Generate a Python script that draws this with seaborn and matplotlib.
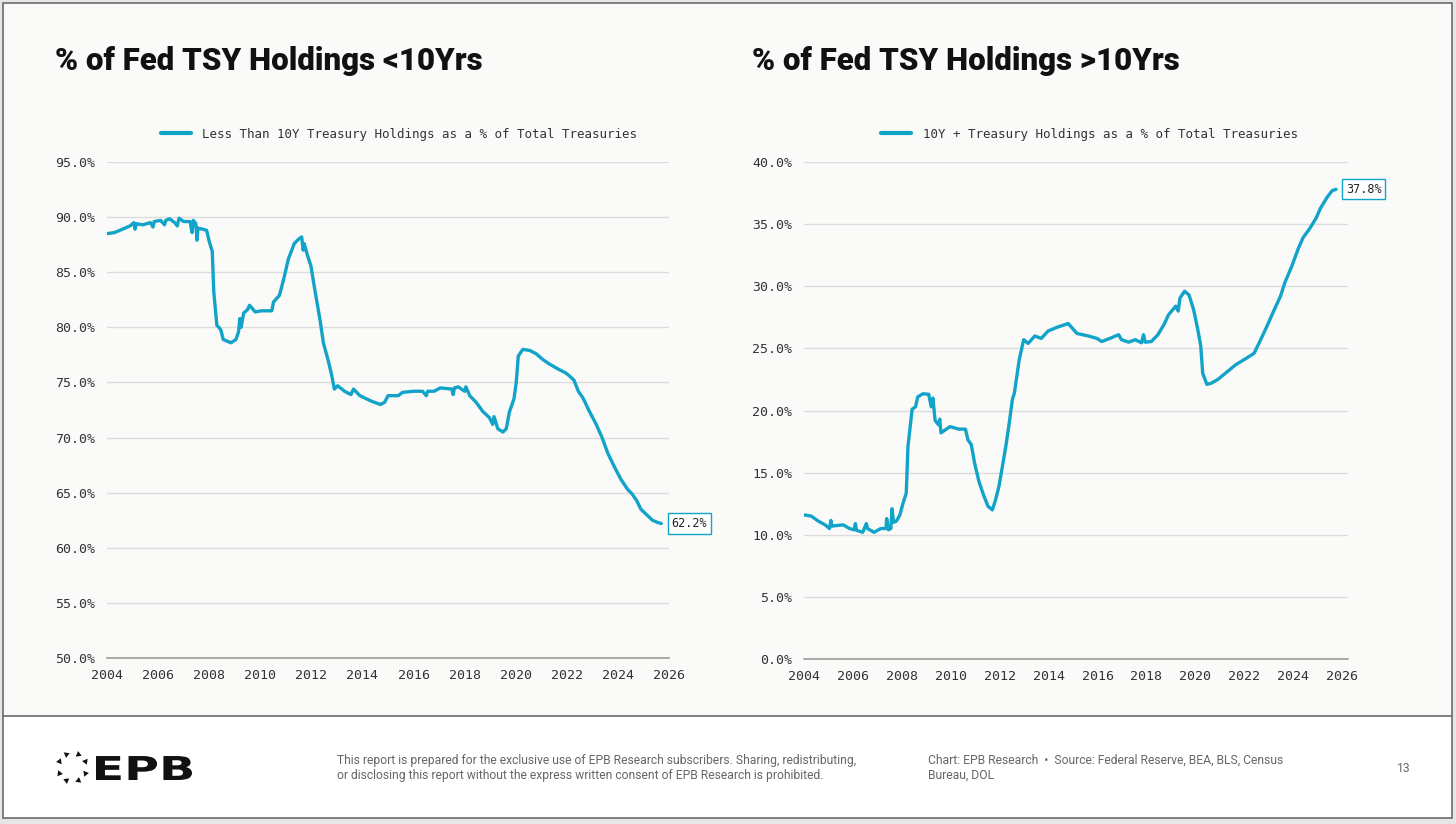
import numpy as np
import pandas as pd
import matplotlib.pyplot as plt
import seaborn as sns
from matplotlib.patches import Rectangle, PathPatch
from matplotlib.textpath import TextPath
from matplotlib.font_manager import FontProperties
from matplotlib.transforms import Affine2D

# Data (decimal years, percent of total treasuries)
lt10_years = [2004.00, 2004.30, 2004.60, 2004.90, 2005.05, 2005.10, 2005.15, 2005.40, 2005.70, 2005.80,
              2005.85, 2006.10, 2006.25, 2006.30, 2006.45, 2006.65, 2006.75, 2006.82, 2007.00, 2007.25,
              2007.33, 2007.38, 2007.48, 2007.52, 2007.56, 2007.75, 2007.90, 2008.00, 2008.12, 2008.18,
              2008.30, 2008.45, 2008.55, 2008.85, 2009.05, 2009.15, 2009.20, 2009.25, 2009.35, 2009.50,
              2009.58, 2009.80, 2010.05, 2010.45, 2010.52, 2010.75, 2010.92, 2011.10, 2011.33, 2011.50,
              2011.62, 2011.68, 2011.72, 2011.85, 2011.98, 2012.15, 2012.33, 2012.47, 2012.68, 2012.80,
              2012.90, 2013.03, 2013.30, 2013.55, 2013.65, 2013.90, 2014.35, 2014.70, 2014.87, 2015.00,
              2015.40, 2015.57, 2016.00, 2016.35, 2016.50, 2016.55, 2016.80, 2017.05, 2017.50, 2017.55,
              2017.60, 2017.75, 2018.00, 2018.05, 2018.20, 2018.45, 2018.70, 2018.97, 2019.10, 2019.15,
              2019.30, 2019.50, 2019.63, 2019.75, 2019.93, 2020.02, 2020.10, 2020.28, 2020.55, 2020.80,
              2021.05, 2021.30, 2021.67, 2021.93, 2022.10, 2022.28, 2022.45, 2022.63, 2022.90, 2023.15,
              2023.38, 2023.60, 2023.85, 2024.12, 2024.38, 2024.55, 2024.73, 2024.90, 2025.17, 2025.35,
              2025.55, 2025.70]
lt10_values = [88.5, 88.6, 88.9, 89.2, 89.5, 88.9, 89.4, 89.3, 89.5, 89.1,
               89.6, 89.7, 89.3, 89.7, 89.85, 89.5, 89.2, 89.9, 89.6, 89.6,
               88.6, 89.7, 89.4, 87.9, 89.0, 88.9, 88.8, 87.8, 86.9, 83.2,
               80.2, 79.8, 78.9, 78.6, 78.9, 79.6, 80.8, 80.0, 81.3, 81.6,
               82.0, 81.4, 81.5, 81.5, 82.3, 82.9, 84.4, 86.2, 87.6, 88.0,
               88.2, 87.0, 87.6, 86.5, 85.6, 83.2, 80.8, 78.6, 76.8, 75.6,
               74.4, 74.7, 74.2, 73.9, 74.4, 73.8, 73.3, 73.0, 73.2, 73.8,
               73.8, 74.1, 74.2, 74.2, 73.8, 74.2, 74.2, 74.5, 74.4, 73.9,
               74.5, 74.6, 74.2, 74.6, 73.8, 73.2, 72.4, 71.8, 71.2, 71.9,
               70.8, 70.5, 70.8, 72.3, 73.5, 75.0, 77.4, 78.0, 77.9, 77.6,
               77.1, 76.7, 76.2, 75.9, 75.6, 75.2, 74.2, 73.6, 72.3, 71.2,
               70.0, 68.6, 67.4, 66.2, 65.3, 64.9, 64.3, 63.5, 62.9, 62.5,
               62.3, 62.2]

gt10_years = [2004.00, 2004.30, 2004.58, 2004.86, 2005.04, 2005.10, 2005.15, 2005.60, 2005.86, 2006.05,
              2006.10, 2006.15, 2006.40, 2006.55, 2006.60, 2006.86, 2007.14, 2007.35, 2007.38, 2007.45,
              2007.55, 2007.60, 2007.66, 2007.78, 2007.92, 2008.05, 2008.18, 2008.25, 2008.42, 2008.56,
              2008.65, 2008.87, 2009.10, 2009.20, 2009.27, 2009.36, 2009.50, 2009.55, 2009.60, 2009.78,
              2009.97, 2010.33, 2010.60, 2010.70, 2010.84, 2010.97, 2011.15, 2011.34, 2011.52, 2011.70,
              2011.83, 2011.97, 2012.12, 2012.25, 2012.37, 2012.52, 2012.60, 2012.80, 2012.98, 2013.16,
              2013.44, 2013.70, 2013.98, 2014.35, 2014.80, 2014.98, 2015.16, 2015.62, 2015.98, 2016.17,
              2016.50, 2016.86, 2016.98, 2017.27, 2017.54, 2017.80, 2017.88, 2017.95, 2018.20, 2018.47,
              2018.74, 2018.90, 2019.20, 2019.30, 2019.37, 2019.56, 2019.74, 2019.93, 2020.10, 2020.22,
              2020.30, 2020.47, 2020.65, 2020.92, 2021.29, 2021.66, 2022.00, 2022.40, 2022.67, 2022.93,
              2023.20, 2023.48, 2023.66, 2023.94, 2024.20, 2024.40, 2024.66, 2024.94, 2025.12, 2025.40,
              2025.60, 2025.75]
gt10_values = [11.6, 11.5, 11.1, 10.8, 10.5, 11.15, 10.7, 10.8, 10.5, 10.4,
               10.9, 10.35, 10.2, 10.9, 10.5, 10.2, 10.5, 10.5, 11.3, 10.4,
               10.5, 12.1, 11.0, 11.1, 11.6, 12.55, 13.35, 17.1, 20.1, 20.3,
               21.1, 21.35, 21.3, 20.3, 21.0, 19.2, 18.85, 19.3, 18.2, 18.45,
               18.7, 18.5, 18.5, 17.65, 17.25, 15.8, 14.3, 13.2, 12.3, 12.0,
               12.8, 13.9, 15.6, 17.1, 18.7, 20.9, 21.4, 24.1, 25.7, 25.4,
               26.0, 25.8, 26.4, 26.7, 27.0, 26.6, 26.2, 26.0, 25.8, 25.55,
               25.8, 26.1, 25.7, 25.5, 25.7, 25.45, 26.1, 25.5, 25.55, 26.1,
               27.0, 27.7, 28.4, 28.0, 29.05, 29.6, 29.3, 28.1, 26.5, 25.2,
               23.0, 22.1, 22.2, 22.5, 23.1, 23.7, 24.1, 24.6, 25.7, 26.8,
               28.0, 29.2, 30.3, 31.6, 33.0, 33.9, 34.6, 35.5, 36.3, 37.2,
               37.7, 37.8]

titles = ["% of Fed TSY Holdings <10Yrs", "% of Fed TSY Holdings >10Yrs"]
legend_labels = ["Less Than 10Y Treasury Holdings as a % of Total Treasuries",
                 "10Y + Treasury Holdings as a % of Total Treasuries"]
x_ticks = list(range(2004, 2027, 2))

LINE = "#12a3c8"
MONO = ["DejaVu Sans Mono"]
SANS = ["Roboto", "DejaVu Sans"]

sns.set_theme(style="white")
plt.rcParams["font.family"] = SANS

W, H = 1456, 824
fig = plt.figure(figsize=(W / 100, H / 100), dpi=100)
fig.patch.set_facecolor("#e6e6e6")

# background canvas in pixel coordinates
canvas = fig.add_axes([0, 0, 1, 1], zorder=-1)
canvas.set_xlim(0, W)
canvas.set_ylim(H, 0)
canvas.axis("off")
canvas.add_patch(Rectangle((3, 3), 1449, 815, facecolor="white", edgecolor="#6b6b6b", lw=1.2))
canvas.add_patch(Rectangle((3.6, 3.6), 1447.8, 712, facecolor="#fafaf8", edgecolor="none"))
canvas.plot([3, 1452], [716, 716], color="#6b6b6b", lw=1.2)

for x, t in zip([55, 752], titles):
    canvas.text(x, 61, t, fontsize=22.5, fontweight="black", color="#111111", va="center", ha="left")

# footer
canvas.text(337, 768, "This report is prepared for the exclusive use of EPB Research subscribers. Sharing, redistributing,\n"
            "or disclosing this report without the express written consent of EPB Research is prohibited.",
            fontsize=8.7, color="#666666", va="center", ha="left", linespacing=1.15)
canvas.text(928, 768, "Chart: EPB Research  \u2022  Source: Federal Reserve, BEA, BLS, Census\nBureau, DOL",
            fontsize=8.7, color="#666666", va="center", ha="left", linespacing=1.15)
canvas.text(1397, 768, "13", fontsize=8.7, color="#666666", va="center", ha="left")

# logo: ring of arrowheads + wide "EPB"
cx, cy, r = 72, 767, 14.5
for k in range(8):
    a = np.deg2rad(90 - k * 45 - 22.5)
    canvas.plot(cx + r * np.cos(a), cy - r * np.sin(a), marker=(3, 0, np.rad2deg(a) + 180),
                markersize=5, color="#111111", markeredgewidth=0)
tp = TextPath((0, 0), "EPB", size=1, prop=FontProperties(family="DejaVu Sans", weight="bold"))
ext = tp.get_extents()
sx = 96 / ext.width
sy = 24 / 0.73
tp = Affine2D().scale(sx, -sy).translate(96 - ext.x0 * sx, 780).transform_path(tp)
canvas.add_patch(PathPatch(tp, facecolor="#111111", edgecolor="none"))

# charts
panels = [
    dict(rect=[107 / W, 1 - 658 / H, 562 / W, 496 / H], x=lt10_years, y=lt10_values,
         ylim=(50, 95), xmax=2026, legend_x=0.52, label=legend_labels[0]),
    dict(rect=[804 / W, 1 - 659 / H, 544 / W, 497 / H], x=gt10_years, y=gt10_values,
         ylim=(0, 40), xmax=2026.24, legend_x=0.525, label=legend_labels[1]),
]

for p in panels:
    ax = fig.add_axes(p["rect"])
    ax.set_facecolor("none")
    df = pd.DataFrame({"Year": p["x"], "Share": p["y"]})
    sns.lineplot(data=df, x="Year", y="Share", ax=ax, color=LINE, lw=2.4, label=p["label"])
    ax.set_xlim(2004, p["xmax"])
    ax.set_ylim(*p["ylim"])
    ax.set_yticks(np.arange(p["ylim"][0], p["ylim"][1] + 0.1, 5))
    ax.set_xticks(x_ticks)
    ax.yaxis.set_major_formatter(plt.FuncFormatter(lambda v, _: f"{v:.1f}%"))
    ax.grid(axis="y", color="#dcdcdc", lw=1)
    ax.grid(axis="x", visible=False)
    ax.set_axisbelow(True)
    for s in ["top", "right", "left"]:
        ax.spines[s].set_visible(False)
    ax.spines["bottom"].set_color("#9a9a9a")
    ax.spines["bottom"].set_linewidth(1.2)
    ax.tick_params(axis="x", length=4, width=1, color="#9a9a9a", pad=4, labelsize=9.5, labelcolor="#333333")
    ax.tick_params(axis="y", length=0, pad=8.5, labelsize=9.5, labelcolor="#333333")
    for lab in ax.get_xticklabels() + ax.get_yticklabels():
        lab.set_fontfamily(MONO)
    ax.set_xlabel("")
    ax.set_ylabel("")
    leg = ax.legend(loc="center", bbox_to_anchor=(p["legend_x"], 1.056), frameon=False,
                    handlelength=2.4, handletextpad=0.9,
                    prop=FontProperties(family=MONO, size=9))
    for t in leg.get_texts():
        t.set_color("#333333")
    for h in leg.get_lines():
        h.set_linewidth(3)
    ax.annotate(f"{p['y'][-1]:.1f}%", xy=(p["x"][-1], p["y"][-1]), xytext=(10, 0),
                textcoords="offset pixels", va="center", ha="left", fontsize=8.5,
                fontfamily=MONO, color="#222222",
                bbox=dict(boxstyle="square,pad=0.3", fc="white", ec=LINE, lw=1))

fig.savefig("out.png", dpi=100, facecolor=fig.get_facecolor())
